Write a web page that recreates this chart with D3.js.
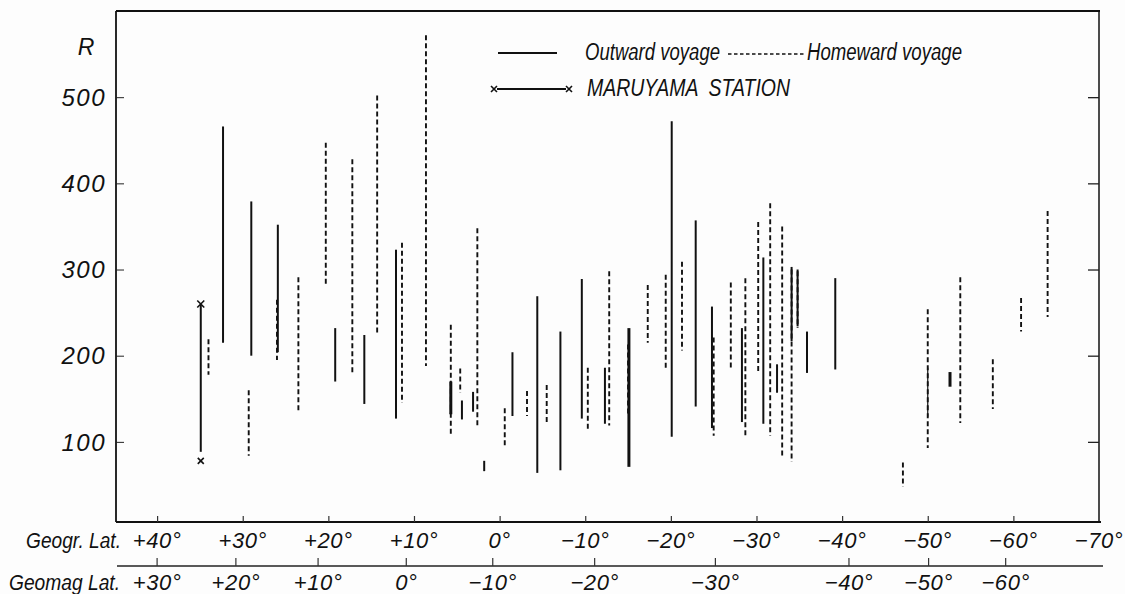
<!DOCTYPE html>
<html>
<head>
<meta charset="utf-8">
<script src="https://cdn.jsdelivr.net/npm/d3@7"></script>
<style>
  html, body { margin: 0; padding: 0; background: #fdfdfd; }
  svg { display: block; }
  text { font-family: "Liberation Sans", Arimo, sans-serif; font-style: italic; fill: #111; }
</style>
</head>
<body>
<svg id="chart" width="1125" height="594"></svg>
<script>
// Range of R at each latitude: [geographic latitude, lowest R, highest R]
const outward = [
  [32.3, 215, 466], [29.0, 200, 379], [25.9, 204, 352], [19.2, 170, 232],
  [15.8, 144, 224], [12.1, 127, 323], [5.7, 132, 170], [4.4, 126, 148],
  [3.1, 135, 158], [1.8, 66, 78], [-1.5, 130, 204], [-4.4, 64, 269],
  [-7.1, 67, 228], [-9.6, 127, 289], [-12.3, 121, 186], [-15.1, 71, 232],
  [-20.1, 106, 472], [-22.9, 141, 357], [-24.8, 116, 257], [-28.3, 123, 232],
  [-30.8, 121, 314], [-32.4, 157, 190], [-34.1, 217, 303], [-34.8, 234, 300],
  [-35.9, 180, 228], [-39.2, 184, 290], [-50.0, 129, 186], [-52.6, 164, 181]
];
const homeward = [
  [34.0, 178, 219], [29.3, 84, 160], [26.0, 195, 265], [23.5, 135, 291],
  [20.3, 283, 447], [17.2, 178, 428], [14.3, 227, 502], [11.4, 145, 331],
  [8.6, 188, 572], [5.7, 106, 236], [4.6, 157, 185], [2.6, 116, 348],
  [-0.6, 95, 139], [-3.2, 130, 159], [-5.5, 121, 166], [-10.3, 115, 186],
  [-12.8, 119, 298], [-15.0, 130, 213], [-17.3, 215, 282], [-19.4, 186, 294],
  [-21.3, 206, 309], [-25.0, 107, 221], [-27.0, 186, 285], [-28.7, 106, 290],
  [-30.2, 181, 355], [-31.6, 107, 377], [-33.0, 84, 350], [-34.1, 77, 300],
  [-34.8, 232, 298], [-47.1, 48, 76], [-50.0, 93, 254], [-53.8, 122, 291],
  [-57.6, 138, 196], [-60.9, 228, 267], [-64.0, 245, 368]
];
// Ground station reference range
const maruyama = [34.9, 78, 260];

const rTicks = [100, 200, 300, 400, 500];
const geogrTicks = [40, 30, 20, 10, 0, -10, -20, -30, -40, -50, -60, -70];
const geogrLabels = ["+40°", "+30°", "+20°", "+10°", "0°", "−10°", "−20°", "−30°", "−40°", "−50°", "−60°", "−70°"];
// Geomagnetic latitude labels and the geographic latitude where each falls
const geomagLabels = ["+30°", "+20°", "+10°", "0°", "−10°", "−20°", "−30°", "−40°", "−50°", "−60°"];
const geomagAt = [40.0, 30.8, 21.2, 10.9, 0.8, -11.1, -25.2, -40.8, -50.1, -59.1];

const svg = d3.select("#chart");
const x = d3.scaleLinear().domain([44.8, -70]).range([116, 1099]);
const y = d3.scaleLinear().domain([7, 600]).range([522, 11]);
const [x0, x1] = x.range();
const [yb, yt] = y.range();

const frame = svg.append("g").attr("stroke", "#111").attr("fill", "none");
frame.append("line").attr("x1", x0).attr("x2", x1 + 1).attr("y1", yt).attr("y2", yt).attr("stroke-width", 2.2);
frame.append("line").attr("x1", x0).attr("x2", x0).attr("y1", yt).attr("y2", yb).attr("stroke-width", 1.8);
frame.append("line").attr("x1", x1).attr("x2", x1).attr("y1", yt).attr("y2", yb).attr("stroke-width", 1.5);

// Left R axis: short inward ticks
const left = svg.append("g").attr("transform", `translate(${x0},0)`)
  .call(d3.axisRight(y).tickValues(rTicks).tickSize(8).tickFormat(""));
left.select(".domain").remove();
left.selectAll(".tick line").attr("stroke", "#222").attr("stroke-width", 1);
svg.append("g").selectAll("text").data(rTicks).join("text")
  .attr("x", 106).attr("y", d => y(d)).attr("dy", "0.36em")
  .attr("text-anchor", "end").attr("font-size", 24).attr("letter-spacing", 1.5)
  .text(d => d);
svg.append("text").attr("x", 86).attr("y", 47).attr("dy", "0.36em")
  .attr("text-anchor", "middle").attr("font-size", 23).text("R");

// Right R axis ticks
const right = svg.append("g").attr("transform", `translate(${x1},0)`)
  .call(d3.axisLeft(y).tickValues(rTicks).tickSize(11).tickFormat(""));
right.select(".domain").remove();
right.selectAll(".tick line").attr("stroke", "#222").attr("stroke-width", 1.3);

// Geographic latitude axis
const bottom = svg.append("g").attr("transform", `translate(0,${yb})`)
  .call(d3.axisTop(x).tickValues(geogrTicks.slice(0, -1)).tickSize(6).tickFormat(""));
bottom.select(".domain").attr("d", `M${x0},0H${x1 + 2}`).attr("stroke", "#111").attr("stroke-width", 1.8);
bottom.selectAll(".tick line").attr("stroke", "#333").attr("stroke-width", 1.2);
svg.append("g").selectAll("text").data(geogrTicks).join("text")
  .attr("x", d => x(d)).attr("y", 540).attr("dy", "0.36em")
  .attr("text-anchor", "middle").attr("font-size", 22).attr("letter-spacing", 0.6)
  .text((d, i) => geogrLabels[i]);
svg.append("text").attr("x", 26).attr("y", 540).attr("dy", "0.36em")
  .attr("font-size", 22).attr("textLength", 95).attr("lengthAdjust", "spacingAndGlyphs").text("Geogr. Lat.");

// Geomagnetic latitude axis, placed by geographic latitude
const magY = 566;
svg.append("line").attr("x1", 117).attr("x2", 1103).attr("y1", magY).attr("y2", magY)
  .attr("stroke", "#222").attr("stroke-width", 1.5);
svg.append("g").selectAll("line").data(geomagAt).join("line")
  .attr("x1", d => x(d)).attr("x2", d => x(d)).attr("y1", magY - 8).attr("y2", magY)
  .attr("stroke", "#333").attr("stroke-width", 1.2);
svg.append("g").selectAll("text").data(geomagAt).join("text")
  .attr("x", d => x(d)).attr("y", 582).attr("dy", "0.36em")
  .attr("text-anchor", "middle").attr("font-size", 22).attr("letter-spacing", 0.6)
  .text((d, i) => geomagLabels[i]);
svg.append("text").attr("x", 9).attr("y", 582).attr("dy", "0.36em")
  .attr("font-size", 22).attr("textLength", 111).attr("lengthAdjust", "spacingAndGlyphs").text("Geomag Lat.");

// R ranges
const thick = new Set([5.7, -15.1, -52.6]);
svg.append("g").selectAll("line").data(outward).join("line")
  .attr("x1", d => x(d[0])).attr("x2", d => x(d[0]))
  .attr("y1", d => y(d[1])).attr("y2", d => y(d[2]))
  .attr("stroke", "#111")
  .attr("stroke-width", d => thick.has(d[0]) ? 3 : (d[0] === -50.0 ? 1.2 : 2));
svg.append("g").selectAll("line").data(homeward).join("line")
  .attr("x1", d => x(d[0])).attr("x2", d => x(d[0]))
  .attr("y1", d => y(d[2])).attr("y2", d => y(d[1]))
  .attr("stroke", "#111").attr("stroke-width", 1.9).attr("stroke-dasharray", "5,3");

// Maruyama station with cross markers at both ends
function cross(g, cx, cy, s) {
  g.append("path").attr("d", `M${cx - s},${cy - s}L${cx + s},${cy + s}M${cx - s},${cy + s}L${cx + s},${cy - s}`)
    .attr("stroke", "#111").attr("stroke-width", 1.6).attr("fill", "none");
}
const mg = svg.append("g");
mg.append("line").attr("x1", x(maruyama[0])).attr("x2", x(maruyama[0]))
  .attr("y1", y(maruyama[1]) - 9).attr("y2", y(maruyama[2]))
  .attr("stroke", "#111").attr("stroke-width", 2);
cross(mg, x(maruyama[0]), y(maruyama[2]), 3.5);
cross(mg, x(maruyama[0]), y(maruyama[1]), 3);

// Legend
const lg = svg.append("g");
lg.append("line").attr("x1", 498).attr("x2", 557).attr("y1", 53).attr("y2", 53).attr("stroke", "#111").attr("stroke-width", 2);
lg.append("text").attr("x", 585).attr("y", 52).attr("dy", "0.36em").attr("font-size", 23)
  .attr("textLength", 135).attr("lengthAdjust", "spacingAndGlyphs").text("Outward voyage");
lg.append("line").attr("x1", 728).attr("x2", 804).attr("y1", 54).attr("y2", 54).attr("stroke", "#111").attr("stroke-width", 1.4).attr("stroke-dasharray", "3.5,2.5");
lg.append("text").attr("x", 807).attr("y", 52).attr("dy", "0.36em").attr("font-size", 23)
  .attr("textLength", 155).attr("lengthAdjust", "spacingAndGlyphs").text("Homeward voyage");
lg.append("line").attr("x1", 497).attr("x2", 566).attr("y1", 89).attr("y2", 89).attr("stroke", "#111").attr("stroke-width", 2.2);
cross(lg, 494, 89, 3);
cross(lg, 569, 89, 3);
lg.append("text").attr("x", 587).attr("y", 87).attr("dy", "0.36em").attr("font-size", 24)
  .attr("textLength", 203).attr("lengthAdjust", "spacingAndGlyphs")
  .attr("xml:space", "preserve").text("MARUYAMA  STATION");
</script>
</body>
</html>
